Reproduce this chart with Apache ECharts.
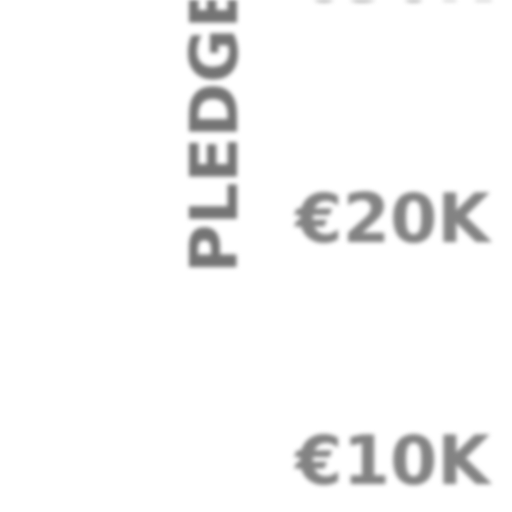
<!DOCTYPE html>
<html>
<head>
<meta charset="utf-8">
<script src="https://cdn.jsdelivr.net/npm/echarts@6/dist/echarts.min.js"></script>
<style>
html, body { margin: 0; padding: 0; background: #fff; }
#chart { width: 512px; height: 512px; filter: blur(2px); }
</style>
</head>
<body>
<div id="chart"></div>
<script>
// y axis: pledged amount in euro
var axisName = 'PLEDGED';
var yMin = 0;
var yMax = 36000;
var yStep = 10000;

function euroK(v) {
    return '€' + (v / 1000) + 'K';
}

var chart = echarts.init(document.getElementById('chart'));
var option = {
    animation: false,
    grid: {
        left: 498,
        right: -300,
        top: -162,
        bottom: -196,
        containLabel: false,
        outerBoundsMode: 'none'
    },
    xAxis: {
        type: 'category',
        data: [],
        show: false
    },
    yAxis: {
        type: 'value',
        min: yMin,
        max: yMax,
        interval: yStep,
        name: axisName,
        nameLocation: 'middle',
        nameGap: 245,
        nameMoveOverlap: false,
        nameTextStyle: {
            align: 'left',
            color: '#747474',
            fontFamily: 'DejaVu Sans',
            fontWeight: 'bold',
            fontSize: 66
        },
        axisLine: { show: false },
        axisTick: { show: false },
        splitLine: { show: false },
        axisLabel: {
            margin: 8,
            color: '#838383',
            fontFamily: 'DejaVu Sans',
            fontWeight: 'bold',
            fontSize: 68,
            formatter: euroK
        }
    },
    series: []
};
chart.setOption(option);
</script>
</body>
</html>
